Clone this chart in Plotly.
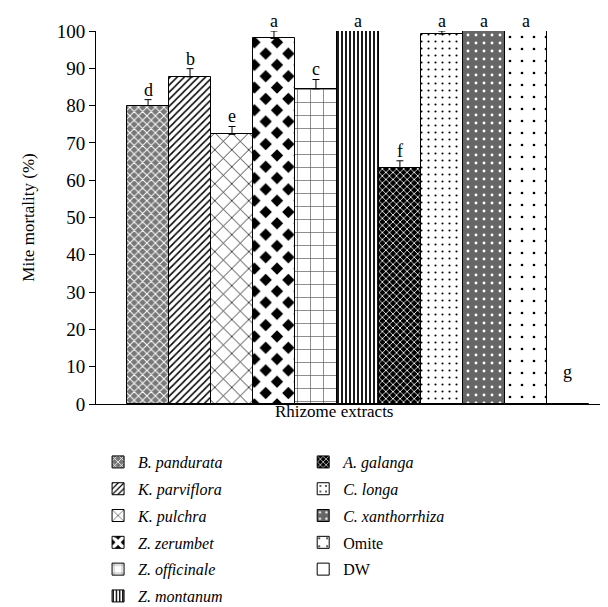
import plotly.graph_objects as go

categories = ["B. pandurata", "K. parviflora", "K. pulchra", "Z. zerumbet", "Z. officinale",
              "Z. montanum", "A. galanga", "C. longa", "C. xanthorrhiza", "Omite", "DW"]
italic = [True, True, True, True, True, True, True, True, True, False, False]
mortality = [80, 87.7, 72.3, 98, 84.5, 100, 63.3, 99.2, 100, 100, 0]
errors = [1.6, 2.2, 2.1, 2.0, 2.5, 0, 1.9, 0.8, 0, 0, 0]
letters = ["d", "b", "e", "a", "c", "a", "f", "a", "a", "a", "g"]

patterns = [
    dict(shape="x", fgcolor="white", bgcolor="#777", size=6, solidity=0.3),
    dict(shape="/", fgcolor="black", bgcolor="white", size=5, solidity=0.3),
    dict(shape="x", fgcolor="black", bgcolor="white", size=12, solidity=0.12),
    dict(shape="x", fgcolor="white", bgcolor="black", size=16, solidity=0.7),
    dict(shape="+", fgcolor="#555", bgcolor="white", size=13, solidity=0.1),
    dict(shape="|", fgcolor="black", bgcolor="white", size=4, solidity=0.45),
    dict(shape="x", fgcolor="white", bgcolor="black", size=5, solidity=0.3),
    dict(shape=".", fgcolor="black", bgcolor="white", size=7, solidity=0.07),
    dict(shape=".", fgcolor="white", bgcolor="#666", size=8, solidity=0.1),
    dict(shape=".", fgcolor="black", bgcolor="white", size=12, solidity=0.04),
    dict(shape="", fgcolor="black", bgcolor="white"),
]
for p in patterns:
    p["fgopacity"] = 1

FONT = "Liberation Serif"
fig = go.Figure()
for i, cat in enumerate(categories):
    name = f"<i>{cat}</i>" if italic[i] else cat
    fig.add_trace(go.Bar(
        x=[cat], y=[mortality[i]], name=name,
        width=1,
        marker=dict(color="white", line=dict(color="black", width=1), pattern=patterns[i]),
        error_y=dict(type="data", symmetric=False, array=[errors[i]], arrayminus=[0],
                     color="black", thickness=1, width=3.5, visible=errors[i] > 0),
        legend="legend" if i < 6 else "legend2",
        legendgroup=f"g{i}",
    ))

for i, cat in enumerate(categories):
    top = mortality[i] + errors[i]
    fig.add_annotation(x=cat, y=top, text=letters[i], showarrow=False,
                       yanchor="bottom", yshift=(-2 if mortality[i] > 0 else 20),
                       font=dict(family=FONT, size=18, color="black"))

fig.add_annotation(xref="paper", yref="paper", x=0.461, y=-0.051, text="Rhizome extracts",
                   showarrow=False, font=dict(family=FONT, size=17, color="black"))

fig.add_shape(type="line", xref="paper", yref="y", x0=0, x1=0, y0=0, y1=-2,
              line=dict(color="black", width=1))

fig.update_layout(
    width=608, height=607,
    margin=dict(l=88, r=2, t=23, b=211, autoexpand=False),
    paper_bgcolor="white", plot_bgcolor="white",
    barmode="overlay", bargap=0,
    font=dict(family=FONT, size=17, color="black"),
    xaxis=dict(showticklabels=False, ticks="", showline=True, linecolor="black", linewidth=1,
               range=[-1.24, 11.1], showgrid=False, zeroline=False),
    yaxis=dict(range=[0, 100], dtick=10, ticks="outside", ticklen=6, tickcolor="black",
               showline=True, linecolor="black", linewidth=1, showgrid=False, zeroline=False,
               tickfont=dict(family=FONT, size=19),
               title=dict(text="Mite mortality (%)", font=dict(family=FONT, size=17), standoff=17)),
    legend=dict(x=0.004, y=-0.11, xanchor="left", yanchor="top", tracegroupgap=3,
                font=dict(family=FONT, size=16), bgcolor="rgba(0,0,0,0)"),
    legend2=dict(x=0.4, y=-0.11, xanchor="left", yanchor="top", tracegroupgap=3,
                 font=dict(family=FONT, size=16), bgcolor="rgba(0,0,0,0)"),
    showlegend=True,
)

fig.write_html("out.html")
